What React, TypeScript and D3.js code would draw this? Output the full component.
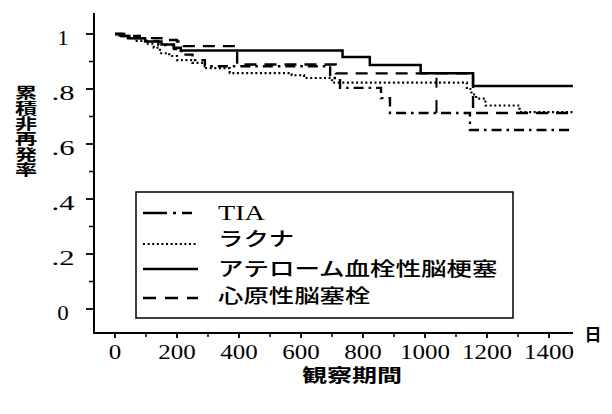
import React from "react";
import * as d3 from "d3";

// ---- data (days, cumulative non-recurrence rate) ----
const tiaSteps: [number, number][] = [
  [0, 1], [25, 0.993], [60, 0.985], [100, 0.975], [140, 0.96], [190, 0.945],
  [215, 0.925], [250, 0.905], [290, 0.883], [694, 0.84], [726, 0.804],
  [858, 0.767], [887, 0.713], [1145, 0.651],
];
const lacunaSteps: [number, number][] = [
  [0, 1], [15, 0.993], [40, 0.985], [70, 0.975], [100, 0.965], [125, 0.95],
  [145, 0.93], [175, 0.92], [200, 0.905], [250, 0.895], [290, 0.876],
  [370, 0.858], [570, 0.85], [610, 0.84], [700, 0.823], [1135, 0.8],
  [1150, 0.78], [1165, 0.765], [1195, 0.74], [1305, 0.716],
];
const atheroSteps: [number, number][] = [
  [0, 1], [20, 0.993], [42, 0.985], [97, 0.973], [150, 0.962], [190, 0.95],
  [212, 0.94], [734, 0.916], [822, 0.887], [986, 0.857], [1155, 0.811],
];
const cardioSteps: [number, number][] = [
  [0, 1], [30, 0.993], [80, 0.985], [150, 0.978], [200, 0.973], [222, 0.956],
  [394, 0.889], [712, 0.857], [1155, 0.713],
];
const tiaCensor = [1037];
const lacunaCensor = [1037];
const endDay = 1477;

const legendLabels = ["TIA", "ラクナ", "アテローム血栓性脳梗塞", "心原性脳塞栓"];
const xMajor = [0, 200, 400, 600, 800, 1000, 1200, 1400];
const xMinor = [100, 300, 500, 700, 900, 1100, 1300];
const yMajor = [0, 0.2, 0.4, 0.6, 0.8, 1];
const yLabels = ["0", ".2", ".4", ".6", ".8", "1"];
const yMinor = [0.1, 0.3, 0.5, 0.7, 0.9];
const yTitle = "累積非再発率";
const xTitle = "観察期間";
const xUnit = "日";

const serif = "'Liberation Serif', 'DejaVu Serif', serif";
const cjk = "'Noto Sans CJK JP', 'Noto Sans CJK SC', sans-serif";

export default function App() {
  const x = d3.scaleLinear().domain([0, 1400]).range([115, 549]);
  const y = d3.scaleLinear().domain([0, 1]).range([309, 34]);
  const line = d3
    .line<[number, number]>()
    .x((d) => x(d[0]))
    .y((d) => y(d[1]))
    .curve(d3.curveStepAfter);
  const withEnd = (s: [number, number][]) => [...s, [endDay, s[s.length - 1][1]] as [number, number]];
  const valueAt = (s: [number, number][], t: number) => {
    let v = s[0][1];
    for (const p of s) if (p[0] <= t) v = p[1];
    return v;
  };

  const series = [
    { steps: tiaSteps, dash: "10,5,2.5,5", w: 2.4 },
    { steps: lacunaSteps, dash: "2,2.6", w: 2.2 },
    { steps: atheroSteps, dash: "", w: 2.5 },
    { steps: cardioSteps, dash: "12,8", w: 2.4 },
  ];
  const legendTextY = [220, 246, 276, 303];
  const legendLineY = [213, 244, 269, 298];
  const legendSampleDash = ["24,6,3,6,10", "2,2.6", "", "13,9"];

  const axisX0 = 93;
  const axisXEnd = 573;
  const axisYTop = 13;
  const axisYBottom = 333;

  return (
    <svg
      width={612}
      height={414}
      style={{ position: "absolute", left: 0, top: 0, background: "#fff" }}
    >
      <rect x={0} y={0} width={612} height={414} fill="#fff" />
      {/* curves */}
      {series.map((s, i) => (
        <path
          key={i}
          d={line(withEnd(s.steps)) || ""}
          fill="none"
          stroke="#000"
          strokeWidth={s.w}
          strokeDasharray={s.dash || undefined}
        />
      ))}
      {/* censor marks */}
      {lacunaCensor.map((t, i) => (
        <line key={"lc" + i} x1={x(t)} x2={x(t)} y1={y(valueAt(lacunaSteps, t)) - 5} y2={y(valueAt(lacunaSteps, t)) + 5} stroke="#000" strokeWidth={2} />
      ))}
      {tiaCensor.map((t, i) => (
        <line key={"tc" + i} x1={x(t)} x2={x(t)} y1={y(valueAt(tiaSteps, t)) - 13} y2={y(valueAt(tiaSteps, t))} stroke="#000" strokeWidth={2} />
      ))}

      {/* y axis */}
      <line x1={94} x2={94} y1={axisYTop} y2={axisYBottom} stroke="#000" strokeWidth={2} />
      {yMajor.map((v, i) => (
        <g key={"ym" + i}>
          <line x1={86} x2={94} y1={y(v)} y2={y(v)} stroke="#000" strokeWidth={1.8} />
          <text
            x={63}
            y={y(v) + 11}
            fontFamily={serif}
            fontSize={20}
            textAnchor="middle"
            textLength={yLabels[i].length * 11.5}
            lengthAdjust="spacingAndGlyphs"
          >
            {yLabels[i]}
          </text>
        </g>
      ))}
      {yMinor.map((v, i) => (
        <line key={"yn" + i} x1={89} x2={94} y1={y(v)} y2={y(v)} stroke="#000" strokeWidth={1.5} />
      ))}

      {/* x axis */}
      <line x1={axisX0} x2={axisXEnd} y1={axisYBottom} y2={axisYBottom} stroke="#000" strokeWidth={2} />
      {xMajor.map((t, i) => (
        <g key={"xm" + i}>
          <line x1={x(t)} x2={x(t)} y1={axisYBottom} y2={axisYBottom + 5} stroke="#000" strokeWidth={1.8} />
          <text
            x={x(t)}
            y={359}
            fontFamily={serif}
            fontSize={20}
            textAnchor="middle"
            textLength={String(t).length * 12.5}
            lengthAdjust="spacingAndGlyphs"
          >
            {String(t)}
          </text>
        </g>
      ))}
      {xMinor.map((t, i) => (
        <line key={"xn" + i} x1={x(t)} x2={x(t)} y1={axisYBottom} y2={axisYBottom + 4} stroke="#000" strokeWidth={1.5} />
      ))}
      <text x={593} y={341} fontFamily={cjk} fontWeight="bold" fontSize={17} textAnchor="middle">
        {xUnit}
      </text>
      <text
        x={352}
        y={382}
        fontFamily={cjk}
        fontWeight="bold"
        fontSize={18}
        textAnchor="middle"
        textLength={100}
        lengthAdjust="spacingAndGlyphs"
      >
        {xTitle}
      </text>

      {/* y title (vertical) */}
      <g transform="translate(26,85) scale(1.45,1)">
        <text
          x={0}
          y={0}
          writingMode="vertical-rl"
          fontFamily={cjk}
          fontWeight="bold"
          fontSize={15.3}
          textLength={92}
          lengthAdjust="spacing"
        >
          {yTitle}
        </text>
      </g>

      {/* legend */}
      <rect x={136} y={192} width={377} height={126} fill="#fff" stroke="#000" strokeWidth={1.5} />
      {legendLabels.map((lab, i) => (
        <g key={"lg" + i}>
          <line
            x1={143}
            x2={198}
            y1={legendLineY[i]}
            y2={legendLineY[i]}
            stroke="#000"
            strokeWidth={i === 1 ? 2 : 2.5}
            strokeDasharray={legendSampleDash[i] || undefined}
          />
          <text
            x={218}
            y={legendTextY[i]}
            fontFamily={i === 0 ? serif : cjk}
            fontWeight={i === 0 ? "normal" : 500}
            fontSize={i === 0 ? 22 : 19}
            textLength={i === 0 ? 47 : lab.length * 25.4}
            lengthAdjust="spacingAndGlyphs"
          >
            {lab}
          </text>
        </g>
      ))}
    </svg>
  );
}
